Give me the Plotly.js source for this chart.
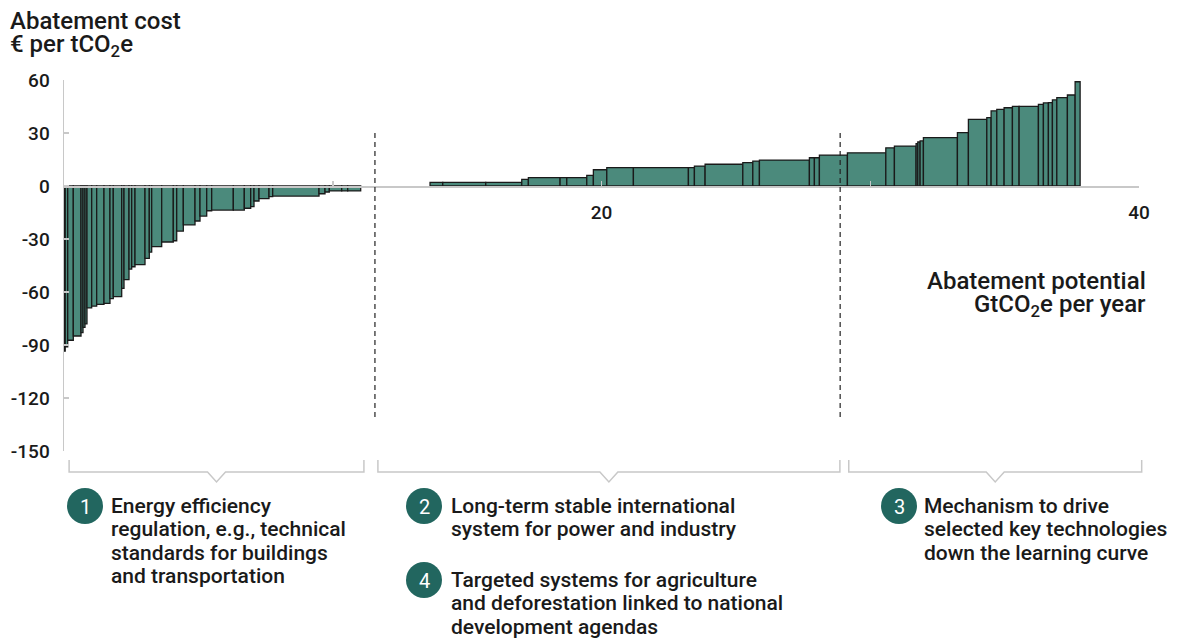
<!DOCTYPE html>
<html>
<head>
<meta charset="utf-8">
<script src="https://cdn.plot.ly/plotly-3.0.1.min.js"></script>
<style>html,body{margin:0;padding:0;background:#fff;}#chart{width:1180px;height:639px;}</style>
</head>
<body>
<div id="chart"></div>
<script>
// ---- Data (abatement potential widths in GtCO2e/yr, costs in EUR/tCO2e) ----
const negWidths = [0.045,0.093,0.208,0.287,0.074,0.074,0.074,0.175,0.186,0.272,0.223,0.123,0.313,0.086,0.186,0.100,0.123,0.372,0.160,0.089,0.372,0.432,0.127,0.246,0.435,0.186,0.249,0.186,0.804,0.409,0.238,0.123,0.186,0.372,0.138,1.723,0.223,0.160,0.461,0.223,0.484];
const negCosts  = [-93.5,-91,-87.3,-84.9,-83,-80,-78,-69,-68,-67,-66.4,-63.7,-62.6,-58,-53,-47,-45.7,-44.5,-41,-37.4,-34.3,-31.7,-31,-25.5,-22,-19.8,-17,-14,-13.6,-13.6,-12.6,-11.7,-8.5,-7.2,-6,-5.7,-4.4,-3.4,-2.8,-2.8,-2.8];
const gapWidth = 2.58;
const posWidths = [0.473,1.600,1.340,0.246,1.180,0.249,0.744,0.246,0.499,0.990,2.047,0.223,0.398,1.403,0.372,0.246,1.860,0.186,0.186,1.042,1.429,0.320,0.807,0.063,0.086,0.123,1.265,0.409,0.685,0.160,0.212,0.272,0.309,0.249,0.718,0.186,0.186,0.149,0.164,0.394,0.287,0.186];
const posCosts  = [2,2,2,3.8,4.7,4.7,4.7,6,9.2,10.4,10.4,10.4,11.3,12.3,13.2,14.1,14.7,16,16,17.5,18.8,21.6,22.6,24,24.9,25.5,27.4,30.2,37.7,38.7,42.5,43.4,44.3,45.1,45.1,46.2,47,47.2,48.7,50,51.5,59];
const segmentBreaks = [11.57, 28.88];
const xTickVals = [10, 20, 30, 40];
const xTickText = ['', '20', '', '40'];
const yTickVals = [60, 30, 0, -30, -60, -90, -120, -150];
const yTickText = ['60', '30', '0', '-30', '-60', '-90', '-120', '-150'];
const yTitleLines = ['Abatement cost', '€ per tCO<sub>2</sub>e'];
const xTitleLines = ['Abatement potential', 'GtCO<sub>2</sub>e per year'];
const leverNums = ['1', '2', '3', '4'];
const leverLines = [
  ['Energy efficiency', 'regulation, e.g., technical', 'standards for buildings', 'and transportation'],
  ['Long-term stable international', 'system for power and industry'],
  ['Mechanism to drive', 'selected key technologies', 'down the learning curve'],
  ['Targeted systems for agriculture', 'and deforestation linked to national', 'development agendas']
];

// ---- Build bar positions from widths ----
const xs = [], ws = [], ys = [];
let cum = 0;
negWidths.forEach((w, i) => { xs.push(cum + w / 2); ws.push(w); ys.push(negCosts[i]); cum += w; });
cum += gapWidth;
posWidths.forEach((w, i) => { xs.push(cum + w / 2); ws.push(w); ys.push(posCosts[i]); cum += w; });

const TEAL = '#4b8a7c';
const DARK = '#1a1a1a';
const AXIS = '#c8c8c8';
const CIRCLE = '#22665f';
const FONT = 'Roboto, "Noto Sans", sans-serif';

// plot area geometry for layout helpers
const L = 64, R = 41, T = 80, B = 188, W = 1180, H = 639;
const PW = W - L - R, PH = H - T - B;
const px = v => (v - L) / PW;
const py = v => (H - B - v) / PH;
const xr = [0, 40];
const dx = v => (v - xr[0]) / (xr[1] - xr[0]);

const shapes = [];
// dashed separators
segmentBreaks.forEach(b => shapes.push({
  type: 'line', xref: 'x', yref: 'y', x0: b, x1: b, y0: 30, y1: -132,
  line: {color: '#222', width: 1.2, dash: '5px,4px'}
}));
// brackets
const brackets = [[0.19, 11.16], [11.68, 28.87], [29.2, 40.1]];
const yTop = py(460), yBot = py(472), yNotch = py(482), hw = 9 / PW;
brackets.forEach(([a, b]) => {
  const x0 = dx(a), x1 = dx(b), c = (x0 + x1) / 2;
  shapes.push({
    type: 'path', xref: 'paper', yref: 'paper',
    path: `M ${x0},${yTop} L ${x0},${yBot} L ${c - hw},${yBot} L ${c},${yNotch} L ${c + hw},${yBot} L ${x1},${yBot} L ${x1},${yTop}`,
    line: {color: AXIS, width: 1.5}
  });
});

// lever circles + texts
const leverPos = [
  {cx: 85, cy: 506, tx: 111},
  {cx: 424, cy: 506, tx: 451},
  {cx: 899, cy: 506, tx: 924},
  {cx: 424, cy: 580, tx: 451}
];
const LINE = 23.3;
const annotations = [];
leverNums.forEach((num, i) => {
  const p = leverPos[i];
  shapes.push({
    type: 'circle', xref: 'paper', yref: 'paper', xsizemode: 'pixel', ysizemode: 'pixel',
    xanchor: px(p.cx), yanchor: py(p.cy), x0: -18, x1: 18, y0: -18, y1: 18,
    fillcolor: CIRCLE, line: {width: 0}
  });
  annotations.push({
    xref: 'paper', yref: 'paper', x: px(p.cx), y: py(p.cy + 1), text: num, showarrow: false,
    xanchor: 'center', yanchor: 'middle', font: {family: FONT, size: 20, color: '#fff', weight: 400}
  });
  leverLines[i].forEach((ln, j) => {
    annotations.push({
      xref: 'paper', yref: 'paper', x: px(p.tx - 2), y: py(p.cy + j * LINE), text: ln, showarrow: false,
      xanchor: 'left', yanchor: 'middle', align: 'left',
      font: {family: FONT, size: 21, color: DARK, weight: 500}
    });
  });
});
// axis titles (line by line for tight leading)
yTitleLines.forEach((ln, j) => annotations.push({
  xref: 'paper', yref: 'paper', x: px(8), y: py(21 + j * 25), text: ln,
  showarrow: false, xanchor: 'left', yanchor: 'middle', align: 'left',
  font: {family: FONT, size: 24, color: DARK, weight: 500}
}));
xTitleLines.forEach((ln, j) => annotations.push({
  xref: 'paper', yref: 'paper', x: px(1148), y: py(281 + j * 24), text: ln,
  showarrow: false, xanchor: 'right', yanchor: 'middle', align: 'right',
  font: {family: FONT, size: 24, color: DARK, weight: 500}
}));

const trace = {
  type: 'bar', x: xs, y: ys, width: ws,
  marker: {color: TEAL, line: {color: DARK, width: 1.3}},
  hoverinfo: 'x+y'
};

const layout = {
  width: W, height: H,
  margin: {l: L, r: R, t: T, b: B, pad: 0},
  paper_bgcolor: '#fff', plot_bgcolor: '#fff',
  showlegend: false,
  bargap: 0,
  font: {family: FONT, size: 18, color: DARK},
  xaxis: {
    range: xr, anchor: 'free', position: 150 / 210,
    showline: true, linecolor: AXIS, linewidth: 1.5,
    ticks: 'inside', ticklen: 5, tickcolor: AXIS, tickwidth: 1.5,
    tickvals: xTickVals, ticktext: xTickText,
    ticklabelstandoff: 9,
    showgrid: false, zeroline: false,
    tickfont: {family: FONT, size: 19, color: DARK, weight: 500}
  },
  yaxis: {
    range: [-150, 60],
    showline: true, linecolor: AXIS, linewidth: 1.5,
    ticks: 'inside', ticklen: 5, tickcolor: AXIS, tickwidth: 1.5,
    tickvals: yTickVals, ticktext: yTickText,
    ticklabelstandoff: 9,
    showgrid: false, zeroline: false,
    tickfont: {family: FONT, size: 19, color: DARK, weight: 500}
  },
  shapes: shapes,
  annotations: annotations
};

Plotly.newPlot('chart', [trace], layout, {displayModeBar: false, staticPlot: true});
</script>
</body>
</html>
